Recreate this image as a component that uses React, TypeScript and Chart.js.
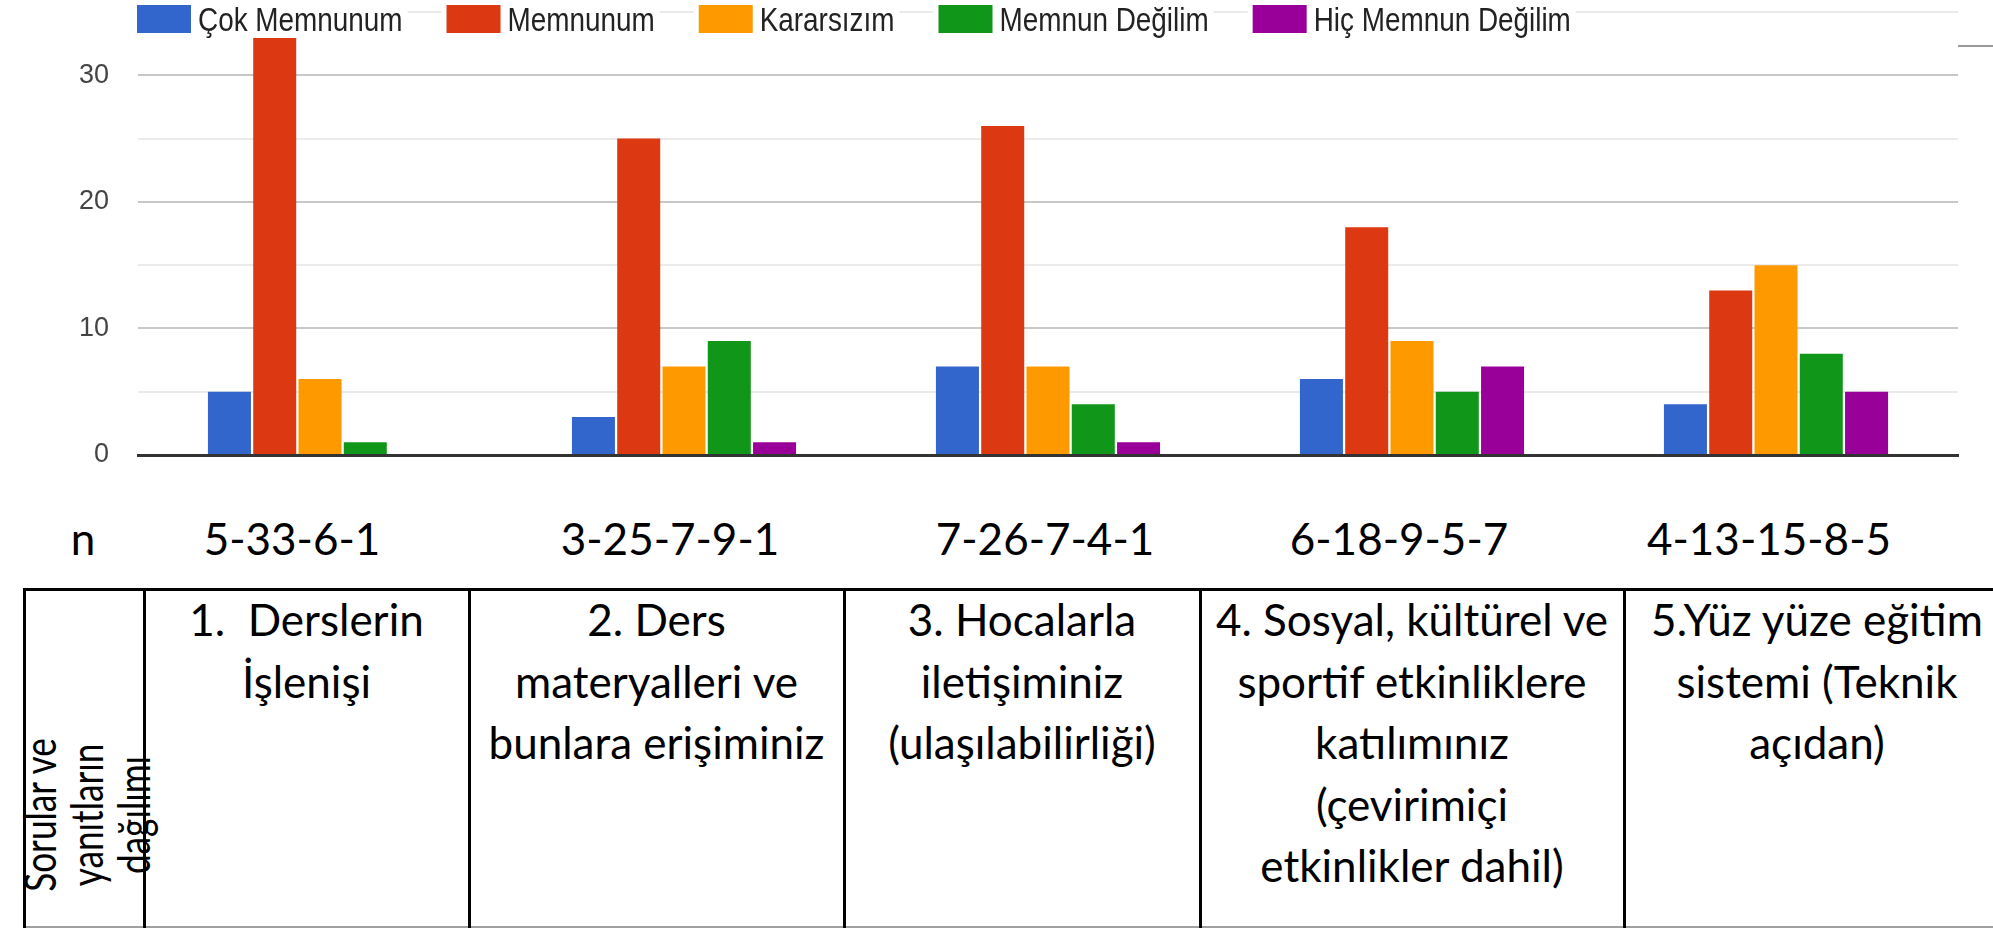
import React, { useEffect, useRef } from "react";
import { Chart, registerables } from "chart.js";

Chart.register(...registerables);

const categories = [
  "1. Derslerin İşlenişi",
  "2. Ders materyalleri ve bunlara erişiminiz",
  "3. Hocalarla iletişiminiz (ulaşılabilirliği)",
  "4. Sosyal, kültürel ve sportif etkinliklere katılımınız (çevirimiçi etkinlikler dahil)",
  "5.Yüz yüze eğitim sistemi (Teknik açıdan)",
];
const seriesNames = ["Çok Memnunum", "Memnunum", "Kararsızım", "Memnun Değilim", "Hiç Memnun Değilim"];
const seriesColors = ["#3366cc", "#dc3912", "#ff9900", "#109618", "#990099"];
const cokMemnunum = [5, 3, 7, 6, 4];
const memnunum = [33, 25, 26, 18, 13];
const kararsizim = [6, 7, 7, 9, 15];
const memnunDegilim = [1, 9, 4, 5, 8];
const hicMemnunDegilim = [0, 1, 1, 7, 5];
const nLabels = ["5-33-6-1", "3-25-7-9-1", "7-26-7-4-1", "6-18-9-5-7", "4-13-15-8-5"];
const rowHeaderLines = ["Sorular ve", "yanıtların", "dağılımı"];
const columnLines = [
  ["1.  Derslerin", "İşlenişi"],
  ["2. Ders", "materyalleri ve", "bunlara erişiminiz"],
  ["3. Hocalarla", "iletişiminiz", "(ulaşılabilirliği)"],
  ["4. Sosyal, kültürel ve", "sportif etkinliklere", "katılımınız", "(çevirimiçi", "etkinlikler dahil)"],
  ["5.Yüz yüze eğitim", "sistemi (Teknik", "açıdan)"],
];

const SANS = "'Liberation Sans', Arial, sans-serif";
const SLIDE_FONT = "Lato, 'Open Sans', sans-serif";

const colEdges = [24, 144, 469, 844, 1200, 1624, 2010];
const nCenters = [292, 670, 1045, 1399, 1769];

const legendPlugin = {
  id: "customLegend",
  afterDraw(chart: any) {
    const ctx = chart.ctx;
    const datasets = chart.data.datasets;
    const squeeze = 0.82;
    ctx.save();
    ctx.font = `34px ${SANS}`;
    ctx.textBaseline = "alphabetic";
    let x = chart.chartArea.left - 1;
    const boxW = 54;
    const boxH = 28;
    const boxY = 5;
    const textGap = 7;
    const itemGap = 44;
    datasets.forEach((ds: any) => {
      const label = ds.label;
      const tw = ctx.measureText(label).width * squeeze;
      ctx.fillStyle = "#ffffff";
      ctx.fillRect(x - 5, 0, boxW + textGap + tw + 10, 38);
      ctx.fillStyle = ds.backgroundColor;
      ctx.fillRect(x, boxY, boxW, boxH);
      ctx.fillStyle = "#222222";
      ctx.save();
      ctx.translate(x + boxW + textGap, 31);
      ctx.scale(squeeze, 1);
      ctx.fillText(label, 0, 0);
      ctx.restore();
      x += boxW + textGap + tw + itemGap;
    });
    ctx.restore();
  },
};

function ChartCanvas() {
  const ref = useRef<HTMLCanvasElement | null>(null);
  useEffect(() => {
    if (!ref.current) return;
    const values = [cokMemnunum, memnunum, kararsizim, memnunDegilim, hicMemnunDegilim];
    const chart = new Chart(ref.current, {
      type: "bar",
      data: {
        labels: categories,
        datasets: seriesNames.map((name, i) => ({
          label: name,
          data: values[i],
          backgroundColor: seriesColors[i],
          borderWidth: 0,
          categoryPercentage: 0.622,
          barPercentage: 0.95,
        })),
      },
      options: {
        responsive: false,
        animation: false,
        devicePixelRatio: 1,
        layout: { padding: { top: 12, right: 35, left: 0, bottom: 0 } },
        plugins: {
          legend: { display: false },
          tooltip: { enabled: false },
        },
        scales: {
          x: {
            z: 1,
            grid: { display: false, drawTicks: false },
            border: { display: true, color: "#333333", width: 3 },
            ticks: { display: false },
            afterFit: (s: any) => {
              s.height = 15;
            },
          },
          y: {
            min: 0,
            max: 35,
            grid: {
              color: (c: any) => (c.tick && c.tick.value % 10 === 0 ? "#c8c8c8" : "#ebebeb"),
              lineWidth: 2,
              drawTicks: false,
            },
            border: { display: false },
            ticks: {
              stepSize: 5,
              padding: 29,
              crossAlign: "near",
              color: "#444444",
              font: { family: SANS, size: 27 },
              callback: (v: any) => (Number(v) % 10 === 0 ? String(v) : ""),
            },
            afterFit: (s: any) => {
              s.width = 138;
              s.paddingTop = 0;
              s.paddingBottom = 0;
            },
          },
        },
      },
      plugins: [legendPlugin],
    });
    return () => chart.destroy();
  }, []);
  return (
    <canvas
      ref={ref}
      width={1993}
      height={470}
      style={{ position: "absolute", left: 0, top: 0, width: 1993, height: 470, display: "block" }}
    />
  );
}

export default function App() {
  const lineH = 61.5;
  return (
    <div
      style={{
        position: "absolute",
        left: 0,
        top: 0,
        width: 1993,
        height: 928,
        overflow: "hidden",
        background: "#ffffff",
        fontFamily: SLIDE_FONT,
        color: "#000",
      }}
    >
      <ChartCanvas />
      <div style={{ position: "absolute", left: 1958, top: 45, width: 35, height: 2, background: "#9a9a9a" }} />
      <div style={{ position: "absolute", left: 83, top: 508, transform: "translateX(-50%)", fontSize: 44, lineHeight: `${lineH}px`, whiteSpace: "pre" }}>n</div>
      {nLabels.map((t, i) => (
        <div
          key={t}
          style={{
            position: "absolute",
            left: nCenters[i],
            top: 508,
            transform: "translateX(-50%)",
            fontSize: 44,
            lineHeight: `${lineH}px`,
            whiteSpace: "pre",
          }}
        >
          {t}
        </div>
      ))}
      <div style={{ position: "absolute", left: 23, top: 588, width: 1993 - 23, height: 3, background: "#000" }} />
      <div style={{ position: "absolute", left: 23, top: 926, width: 1993 - 23, height: 2, background: "#a0a0a0" }} />
      {colEdges.slice(0, 6).map((x) => (
        <div key={x} style={{ position: "absolute", left: x - 1, top: 588, width: 3, height: 340, background: "#000" }} />
      ))}
      {columnLines.map((lines, i) => {
        const l = colEdges[i + 1];
        const r = colEdges[i + 2];
        return (
          <div
            key={i}
            style={{
              position: "absolute",
              left: l,
              top: 589,
              width: r - l,
              textAlign: "center",
              fontSize: 44,
              lineHeight: `${lineH}px`,
              whiteSpace: "pre",
            }}
          >
            {lines.join("\n")}
          </div>
        );
      })}
      <div
        style={{
          position: "absolute",
          left: 86,
          top: 815,
          transform: "translate(-50%, -50%) rotate(-90deg) scaleX(0.8)",
          fontSize: 44,
          lineHeight: "47px",
          whiteSpace: "pre",
          textAlign: "center",
        }}
      >
        {rowHeaderLines.join("\n")}
      </div>
    </div>
  );
}
